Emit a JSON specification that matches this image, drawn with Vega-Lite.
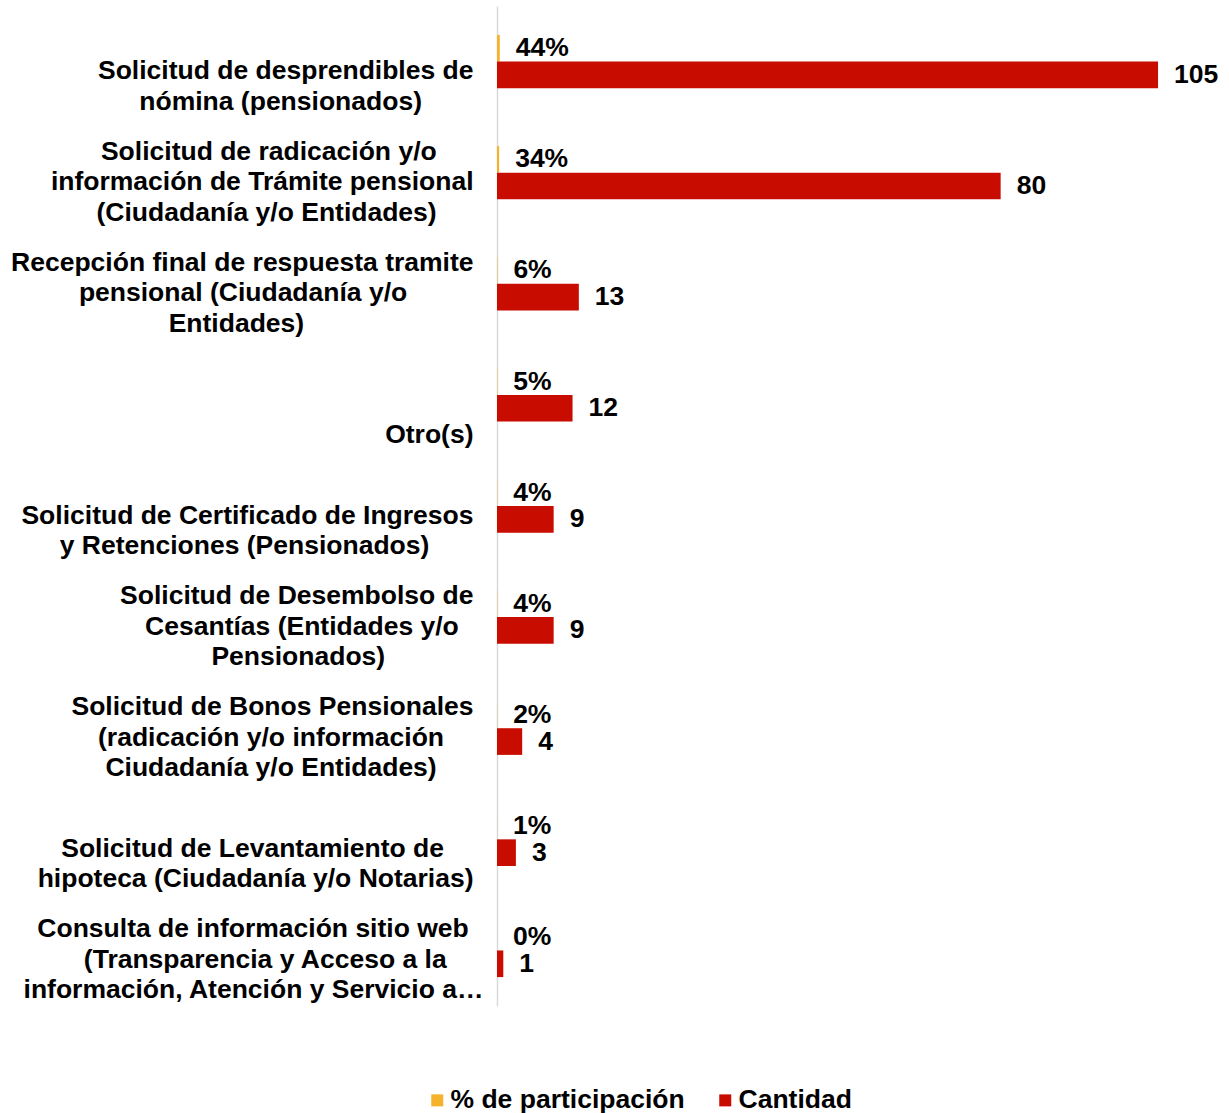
{
  "$schema": "https://vega.github.io/schema/vega-lite/v6.json",
  "width": 724,
  "height": 1000,
  "autosize": {"type": "none"},
  "padding": {"left": 497, "top": 6, "right": 8, "bottom": 107},
  "background": "white",
  "config": {"view": {"stroke": null}, "font": "Liberation Sans"},
  "data": {
    "values": [
      {"categoria": "Solicitud de desprendibles de\nnómina (pensionados)", "serie": "% de participación", "valor": 0.44},
      {"categoria": "Solicitud de desprendibles de\nnómina (pensionados)", "serie": "Cantidad", "valor": 105},
      {"categoria": "Solicitud de radicación y/o\ninformación de Trámite pensional\n(Ciudadanía y/o Entidades)", "serie": "% de participación", "valor": 0.34},
      {"categoria": "Solicitud de radicación y/o\ninformación de Trámite pensional\n(Ciudadanía y/o Entidades)", "serie": "Cantidad", "valor": 80},
      {"categoria": "Recepción final de respuesta tramite\npensional (Ciudadanía y/o\nEntidades)", "serie": "% de participación", "valor": 0.06},
      {"categoria": "Recepción final de respuesta tramite\npensional (Ciudadanía y/o\nEntidades)", "serie": "Cantidad", "valor": 13},
      {"categoria": "Otro(s)", "serie": "% de participación", "valor": 0.05},
      {"categoria": "Otro(s)", "serie": "Cantidad", "valor": 12},
      {"categoria": "Solicitud de Certificado de Ingresos\ny Retenciones (Pensionados)", "serie": "% de participación", "valor": 0.04},
      {"categoria": "Solicitud de Certificado de Ingresos\ny Retenciones (Pensionados)", "serie": "Cantidad", "valor": 9},
      {"categoria": "Solicitud de Desembolso de\nCesantías (Entidades y/o\nPensionados)", "serie": "% de participación", "valor": 0.04},
      {"categoria": "Solicitud de Desembolso de\nCesantías (Entidades y/o\nPensionados)", "serie": "Cantidad", "valor": 9},
      {"categoria": "Solicitud de Bonos Pensionales\n(radicación y/o información\nCiudadanía y/o Entidades)", "serie": "% de participación", "valor": 0.02},
      {"categoria": "Solicitud de Bonos Pensionales\n(radicación y/o información\nCiudadanía y/o Entidades)", "serie": "Cantidad", "valor": 4},
      {"categoria": "Solicitud de Levantamiento de\nhipoteca (Ciudadanía y/o Notarias)", "serie": "% de participación", "valor": 0.01},
      {"categoria": "Solicitud de Levantamiento de\nhipoteca (Ciudadanía y/o Notarias)", "serie": "Cantidad", "valor": 3},
      {"categoria": "Consulta de información sitio web\n(Transparencia y Acceso a la\ninformación, Atención y Servicio a…", "serie": "% de participación", "valor": 0.0},
      {"categoria": "Consulta de información sitio web\n(Transparencia y Acceso a la\ninformación, Atención y Servicio a…", "serie": "Cantidad", "valor": 1}
    ]
  },
  "encoding": {
    "y": {
      "field": "categoria",
      "type": "nominal",
      "sort": [
        "Solicitud de desprendibles de\nnómina (pensionados)",
        "Solicitud de radicación y/o\ninformación de Trámite pensional\n(Ciudadanía y/o Entidades)",
        "Recepción final de respuesta tramite\npensional (Ciudadanía y/o\nEntidades)",
        "Otro(s)",
        "Solicitud de Certificado de Ingresos\ny Retenciones (Pensionados)",
        "Solicitud de Desembolso de\nCesantías (Entidades y/o\nPensionados)",
        "Solicitud de Bonos Pensionales\n(radicación y/o información\nCiudadanía y/o Entidades)",
        "Solicitud de Levantamiento de\nhipoteca (Ciudadanía y/o Notarias)",
        "Consulta de información sitio web\n(Transparencia y Acceso a la\ninformación, Atención y Servicio a…"
      ],
      "scale": {"paddingInner": 0.52, "paddingOuter": 0.26},
      "axis": {
        "title": null,
        "ticks": false,
        "grid": false,
        "domainColor": "#d9d9d9",
        "domainWidth": 1.5,
        "labelFont": "Liberation Sans",
        "labelFontSize": 26.5,
        "labelFontWeight": "bold",
        "labelColor": "#000000",
        "labelPadding": {"condition": {"test": "indexof(datum.label,'Consulta')==0", "value": 14}, "value": 24},
        "labelLimit": 0,
        "labelOverlap": false,
        "labelBound": false,
        "labelAlign": "right",
        "labelBaseline": "bottom",
        "labelLineHeight": 30.5,
        "labelOffset": {"condition": [{"test": "length(split(datum.label,'\\n'))==3", "value": -7}, {"test": "length(split(datum.label,'\\n'))==2", "value": 23.5}], "value": 54},
        "labelExpr": "slice([pad(split(datum.label,'\\n')[0],length(split(datum.label,'\\n')[0])+round((max((2*length(split(datum.label,'\\n')[0])-length(replace(split(datum.label,'\\n')[0],regexp('[^iltfjrI ()/.,í]','g'),''))),(2*length(split(datum.label,'\\n')[1]||'')-length(replace(split(datum.label,'\\n')[1]||'',regexp('[^iltfjrI ()/.,í]','g'),''))),(2*length(split(datum.label,'\\n')[2]||'')-length(replace(split(datum.label,'\\n')[2]||'',regexp('[^iltfjrI ()/.,í]','g'),''))))-(2*length(split(datum.label,'\\n')[0])-length(replace(split(datum.label,'\\n')[0],regexp('[^iltfjrI ()/.,í]','g'),''))))*0.56),'\u00a0')+'\u200b',pad(split(datum.label,'\\n')[1]||'',length(split(datum.label,'\\n')[1]||'')+round((max((2*length(split(datum.label,'\\n')[0])-length(replace(split(datum.label,'\\n')[0],regexp('[^iltfjrI ()/.,í]','g'),''))),(2*length(split(datum.label,'\\n')[1]||'')-length(replace(split(datum.label,'\\n')[1]||'',regexp('[^iltfjrI ()/.,í]','g'),''))),(2*length(split(datum.label,'\\n')[2]||'')-length(replace(split(datum.label,'\\n')[2]||'',regexp('[^iltfjrI ()/.,í]','g'),''))))-(2*length(split(datum.label,'\\n')[1]||'')-length(replace(split(datum.label,'\\n')[1]||'',regexp('[^iltfjrI ()/.,í]','g'),''))))*0.56),'\u00a0')+'\u200b',pad(split(datum.label,'\\n')[2]||'',length(split(datum.label,'\\n')[2]||'')+round((max((2*length(split(datum.label,'\\n')[0])-length(replace(split(datum.label,'\\n')[0],regexp('[^iltfjrI ()/.,í]','g'),''))),(2*length(split(datum.label,'\\n')[1]||'')-length(replace(split(datum.label,'\\n')[1]||'',regexp('[^iltfjrI ()/.,í]','g'),''))),(2*length(split(datum.label,'\\n')[2]||'')-length(replace(split(datum.label,'\\n')[2]||'',regexp('[^iltfjrI ()/.,í]','g'),''))))-(2*length(split(datum.label,'\\n')[2]||'')-length(replace(split(datum.label,'\\n')[2]||'',regexp('[^iltfjrI ()/.,í]','g'),''))))*0.56),'\u00a0')+'\u200b'],0,length(split(datum.label,'\\n')))"
      }
    },
    "yOffset": {
      "field": "serie",
      "type": "nominal",
      "sort": ["% de participación", "Cantidad"],
      "scale": {"paddingInner": 0, "paddingOuter": 0}
    }
  },
  "layer": [
    {
      "mark": {"type": "bar"},
      "encoding": {
        "x": {"field": "valor", "type": "quantitative", "scale": {"domain": [0, 115], "nice": false}, "axis": null},
        "color": {
          "field": "serie",
          "type": "nominal",
          "scale": {"domain": ["% de participación", "Cantidad"], "range": ["#F7B22B", "#C80D00"]},
          "legend": {
            "title": null,
            "orient": "none",
            "direction": "horizontal",
            "legendX": -73,
            "legendY": 1081,
            "symbolType": "square",
            "symbolSize": 144,
            "symbolStrokeWidth": 0,
            "labelFont": "Liberation Sans",
            "labelFontSize": 26.5,
            "labelFontWeight": "bold",
            "labelColor": "#000000",
            "labelOffset": 0,
            "labelLimit": 0,
            "columnPadding": 27
          }
        }
      }
    },
    {
      "transform": [{"filter": "datum.serie === 'Cantidad'"}],
      "mark": {"type": "text", "align": "left", "baseline": "middle", "dx": 16, "font": "Liberation Sans", "fontSize": 26.5, "fontWeight": "bold", "color": "#000000"},
      "encoding": {
        "x": {"field": "valor", "type": "quantitative"},
        "text": {"field": "valor", "type": "quantitative", "format": "d"}
      }
    },
    {
      "transform": [{"filter": "datum.serie !== 'Cantidad'"}],
      "mark": {"type": "text", "align": "left", "baseline": "middle", "dx": 16, "font": "Liberation Sans", "fontSize": 26.5, "fontWeight": "bold", "color": "#000000"},
      "encoding": {
        "x": {"field": "valor", "type": "quantitative"},
        "text": {"field": "valor", "type": "quantitative", "format": ".0%"}
      }
    }
  ]
}
